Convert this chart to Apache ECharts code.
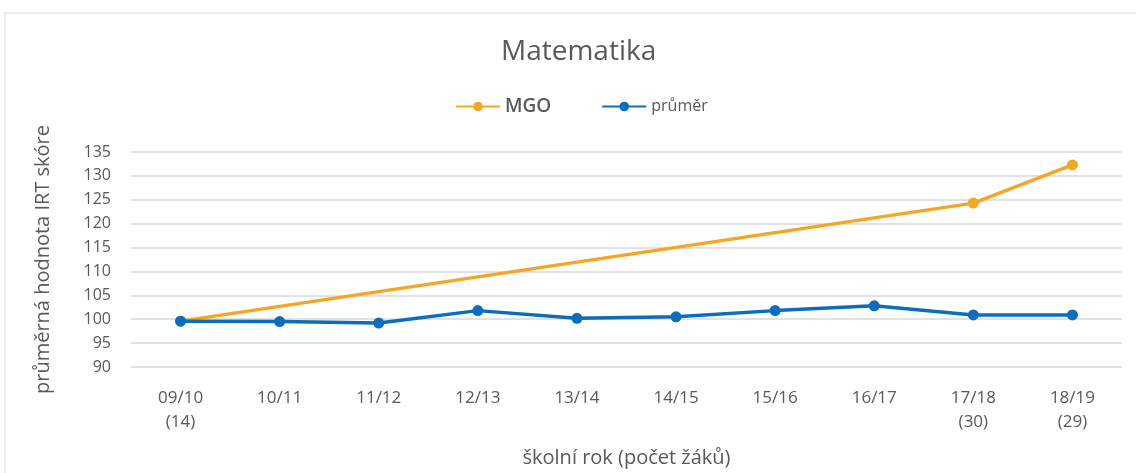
<!DOCTYPE html>
<html>
<head>
    <meta charset="utf-8">
    <script src="https://cdn.jsdelivr.net/npm/echarts@6/dist/echarts.min.js"></script>
    <style>
        html, body { margin: 0; padding: 0; background: #fff; }
        #chart { width: 1136px; height: 473px; }
    </style>
</head>
<body>
    <div id="chart"></div>
<script type="text/javascript">
    // školní roky (počet žáků)
    var roky = ['09/10\n(14)', '10/11', '11/12', '12/13', '13/14', '14/15', '15/16', '16/17', '17/18\n(30)', '18/19\n(29)'];
    // MGO jen v letech s testováním, mezi nimi spojeno čarou
    var mgo = [99.6, null, null, null, null, null, null, null, 124.3, 132.3];
    var prumer = [99.6, 99.5, 99.2, 101.8, 100.2, 100.5, 101.8, 102.8, 100.9, 100.9];
    var yTicks = [90, 135, 5];

    var chart = echarts.init(document.getElementById('chart'));

    var font = '"Open Sans", "Noto Sans", sans-serif';

    var option = {
        backgroundColor: '#fff',
        textStyle: { fontFamily: font },
        graphic: [{
            type: 'rect',
            shape: { x: 5, y: 13, width: 1200, height: 520 },
            style: { fill: 'none', stroke: '#d9d9d9', lineWidth: 1 },
            silent: true
        }],
        title: {
            text: 'Matematika',
            left: 496,
            top: 33,
            textStyle: { fontFamily: font, fontSize: 28, fontWeight: 'normal', color: '#595959' }
        },
        legend: {
            top: 92,
            left: 450,
            itemWidth: 44,
            itemHeight: 12,
            itemGap: 50,
            data: [
                { name: 'MGO', textStyle: { fontSize: 19, fontWeight: 600, color: '#595959' } },
                { name: 'průměr', textStyle: { fontSize: 16, color: '#595959' } }
            ],
            textStyle: { fontFamily: font, color: '#595959' }
        },
        grid: {
            left: 131,
            right: 14,
            top: 152,
            bottom: 106,
            containLabel: false
        },
        xAxis: {
            type: 'category',
            data: roky,
            boundaryGap: true,
            name: 'školní rok (počet žáků)',
            nameLocation: 'middle',
            nameGap: 81,
            nameMoveOverlap: false,
            nameTextStyle: { fontFamily: font, fontSize: 20, color: '#595959' },
            axisLine: { show: false },
            axisTick: { show: false },
            axisLabel: { fontFamily: font, fontSize: 17, color: '#595959', margin: 19, lineHeight: 24 }
        },
        yAxis: {
            type: 'value',
            min: yTicks[0],
            max: yTicks[1],
            interval: yTicks[2],
            name: 'průměrná hodnota IRT skóre',
            nameLocation: 'middle',
            nameGap: 78,
            nameMoveOverlap: false,
            nameTextStyle: { fontFamily: font, fontSize: 20, color: '#595959' },
            axisLine: { show: false },
            axisTick: { show: false },
            axisLabel: { fontFamily: font, fontSize: 16, color: '#595959', margin: 20 },
            splitLine: { lineStyle: { color: '#d9d9d9', width: 1.5 } }
        },
        series: [
            {
                name: 'MGO',
                type: 'line',
                data: mgo,
                connectNulls: true,
                symbol: 'circle',
                symbolSize: 11,
                itemStyle: { color: '#f5a623' },
                lineStyle: { color: '#f5a623', width: 3.5 },
                z: 2
            },
            {
                name: 'průměr',
                type: 'line',
                data: prumer,
                symbol: 'circle',
                symbolSize: 11,
                itemStyle: { color: '#0a6ebd' },
                lineStyle: { color: '#0a6ebd', width: 3.5 },
                z: 3
            }
        ]
    };

    chart.setOption(option);
</script>
</body>
</html>
